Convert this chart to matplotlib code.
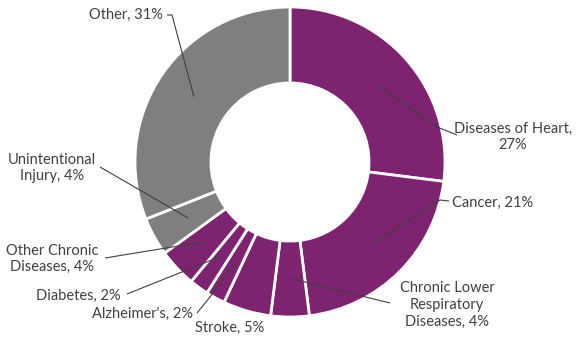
import matplotlib
matplotlib.use("Agg")
import matplotlib.pyplot as plt
import numpy as np

categories = ["Diseases of Heart", "Cancer", "Chronic Lower Respiratory Diseases", "Stroke",
              "Alzheimer's", "Diabetes", "Other Chronic Diseases", "Unintentional Injury", "Other"]
values = [27, 21, 4, 5, 2, 2, 4, 4, 31]
label_texts = ["Diseases of Heart,\n27%", "Cancer, 21%", "Chronic Lower\nRespiratory\nDiseases, 4%",
               "Stroke, 5%", "Alzheimer's, 2%", "Diabetes, 2%", "Other Chronic\nDiseases, 4%",
               "Unintentional\nInjury, 4%", "Other, 31%"]
purple = "#7D2370"
grey = "#7F7F7F"
colors = [purple] * 7 + [grey] * 2

W, H = 579, 339
fig = plt.figure(figsize=(W / 100, H / 100), dpi=100)
ax = fig.add_axes([0, 0, 1, 1])
ax.set_xlim(0, W)
ax.set_ylim(0, H)
ax.set_aspect("equal")
ax.axis("off")

def Y(y):
    return H - y

cx, cy, R = 290, Y(162), 155
wedges, _ = ax.pie(values, colors=colors, startangle=90, counterclock=False,
                   center=(cx, cy), radius=R, frame=True,
                   wedgeprops=dict(width=0.49 * R, edgecolor="white", linewidth=2))
ax.set_xlim(0, W)
ax.set_ylim(0, H)
ax.axis("off")

# layout: text position (px, y from top), ha, elbow, end point near text, anchor radius fraction
layout = [
    dict(xy=(513, 137), ha="center", pts=[(437, 127), (457, 135)]),
    dict(xy=(452, 203), ha="left", pts=[(440, 200), (449, 201)]),
    dict(xy=(447, 305), ha="center", pts=[(390, 303)]),
    dict(xy=(230, 328), ha="center", pts=None),
    dict(xy=(193, 314), ha="right", pts=[(210, 297), (197, 313)]),
    dict(xy=(121, 296), ha="right", pts=[(127, 294)]),
    dict(xy=(52, 259), ha="center", pts=[(105, 258)]),
    dict(xy=(52, 168), ha="center", pts=[(100, 167)]),
    dict(xy=(126, 15), ha="center", pts=[(172, 15), (167, 15)]),
]

txtc = "#404040"
for w, txt, lay in zip(wedges, label_texts, layout):
    mid = np.deg2rad((w.theta1 + w.theta2) / 2)
    ax_x = cx + 0.75 * R * np.cos(mid)
    ax_y = cy + 0.75 * R * np.sin(mid)
    ax.text(lay["xy"][0], Y(lay["xy"][1]), txt, ha=lay["ha"], va="center",
            fontsize=10.5, color=txtc, family="Lato", linespacing=1.25)
    if lay["pts"]:
        xs = [ax_x] + [p[0] for p in lay["pts"]]
        ys = [ax_y] + [Y(p[1]) for p in lay["pts"]]
        ax.plot(xs, ys, color="#404040", lw=0.8, solid_capstyle="butt")

fig.savefig("out.png", dpi=100, facecolor="white")
